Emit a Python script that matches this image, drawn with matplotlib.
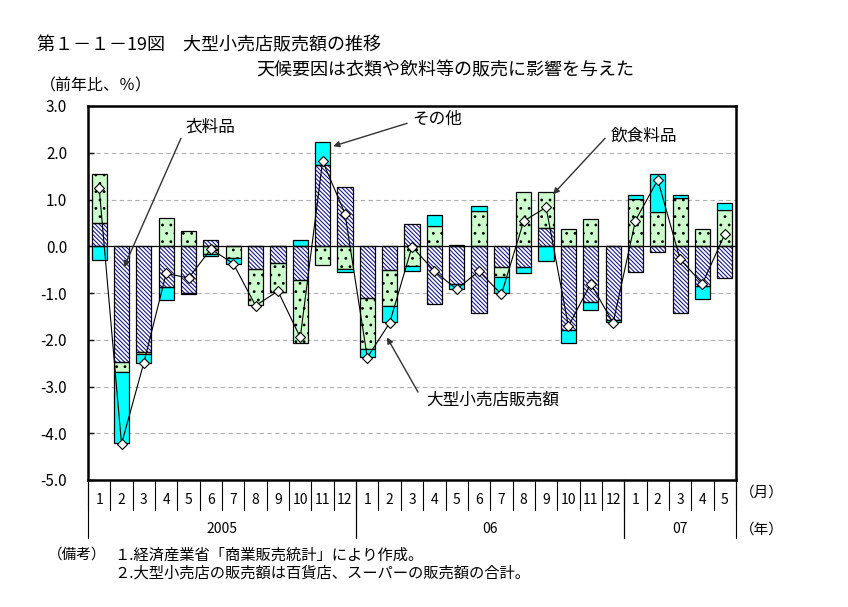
import matplotlib
matplotlib.use("Agg")
import matplotlib.pyplot as plt
import numpy as np

plt.rcParams['font.family'] = ['Noto Sans CJK JP', 'DejaVu Sans']
plt.rcParams['hatch.linewidth'] = 0.8

months = [str(m) for m in range(1, 13)] + [str(m) for m in range(1, 13)] + [str(m) for m in range(1, 6)]
years = ["2005", "06", "07"]
year_spans = [(0, 11), (12, 23), (24, 28)]

clothing = [0.50, -2.47, -2.27, -0.88, -1.00, 0.14, 0.00, -0.48, -0.35, -0.73, 1.73, 1.27,
            -1.10, -0.51, 0.48, -1.24, -0.81, -1.42, -0.44, -0.44, 0.39, -1.80, -1.20, -1.57,
            -0.56, -0.13, -1.42, -0.85, -0.67]
food = [1.05, -0.23, -0.04, 0.61, 0.33, -0.17, -0.26, -0.78, -0.62, -1.35, -0.41, -0.49,
        -1.09, -0.76, -0.42, 0.43, 0.02, 0.75, -0.21, 1.15, 0.77, 0.36, 0.59, 0.00,
        1.02, 0.73, 1.03, 0.36, 0.78]
other = [-0.30, -1.51, -0.18, -0.28, -0.03, -0.03, -0.11, 0.00, 0.00, 0.14, 0.50, -0.07,
         -0.17, -0.34, -0.11, 0.24, -0.11, 0.12, -0.34, -0.14, -0.32, -0.28, -0.16, -0.04,
         0.08, 0.82, 0.07, -0.28, 0.15]
total = [1.25, -4.23, -2.49, -0.58, -0.68, -0.06, -0.37, -1.27, -0.96, -1.95, 1.82, 0.70,
         -2.38, -1.64, -0.01, -0.53, -0.92, -0.53, -1.03, 0.54, 0.83, -1.71, -0.80, -1.64,
         0.55, 1.42, -0.28, -0.80, 0.26]

fig = plt.figure(figsize=(8.48, 6.07), dpi=100)
ax = fig.add_axes([88/848, 1-480/607, (736-88)/848, (480-106)/607])

x = np.arange(len(months))
w = 0.68
pos = np.zeros(len(x))
neg = np.zeros(len(x))

def stack(vals):
    v = np.array(vals, dtype=float)
    bottoms = np.where(v >= 0, pos, neg)
    pos[:] = pos + np.where(v >= 0, v, 0)
    neg[:] = neg + np.where(v < 0, v, 0)
    return v, bottoms

# 衣料品
v, b = stack(clothing)
ax.bar(x, v, w, bottom=b, facecolor='white', edgecolor='#1c1c8c', linewidth=0,
       hatch='\\' * 8, zorder=2)
ax.bar(x, v, w, bottom=b, facecolor='none', edgecolor='black', linewidth=0.9, zorder=2.1)
# 飲食料品
v, b = stack(food)
ax.bar(x, v, w, bottom=b, facecolor='#ccffcc', edgecolor='black', linewidth=0.9,
       hatch='..', zorder=2)
# その他
v, b = stack(other)
ax.bar(x, v, w, bottom=b, facecolor='#00ffff', edgecolor='black', linewidth=0.9, zorder=2)

ax.axhline(0, color='black', linewidth=0.9, zorder=2.5)
ax.plot(x, total, color='black', linewidth=0.8, marker='D', markersize=5,
        markerfacecolor='white', markeredgecolor='black', markeredgewidth=0.8, zorder=3)

ax.set_xlim(-0.5, len(x) - 0.5)
ax.set_ylim(-5, 3)
ax.set_yticks(np.arange(-5, 3.01, 1))
ax.set_yticklabels([f"{t:.1f}" for t in np.arange(-5, 3.01, 1)], fontsize=11)
ax.set_xticks([])
ax.tick_params(axis='y', direction='in', length=4, width=1, pad=15)
for yv in range(-4, 3):
    if yv != 0:
        ax.axhline(yv, color='#b0b0b0', linestyle=(0, (4, 3)), linewidth=0.8, zorder=1)
for s in ax.spines.values():
    s.set_linewidth(1.8)

# category axis below
tr = ax.get_xaxis_transform()
for i in range(len(x) + 1):
    ax.plot([i - 0.5, i - 0.5], [0, -0.08], transform=tr, color='black', linewidth=0.8, clip_on=False)
for i, m in enumerate(months):
    ax.text(i, -0.053, m, transform=tr, ha='center', va='center', fontsize=10)
for (a, bnd), yr in zip(year_spans, years):
    ax.plot([a - 0.5, a - 0.5], [0, -0.155], transform=tr, color='black', linewidth=0.8, clip_on=False)
    ax.plot([bnd + 0.5, bnd + 0.5], [0, -0.155], transform=tr, color='black', linewidth=0.8, clip_on=False)
    ax.text((a + bnd) / 2, -0.131, yr, transform=tr, ha='center', va='center', fontsize=10)
fig.text(762/848, 1-493/607, "（月）", ha='center', va='center', fontsize=10.5)
fig.text(762/848, 1-530/607, "（年）", ha='center', va='center', fontsize=10.5)

# annotations
ap = dict(arrowstyle='-|>', color='#333333', lw=1.0, mutation_scale=9, shrinkA=0, shrinkB=0)
ax.annotate('', xy=(1.11, -0.45), xytext=(3.66, 2.31), arrowprops=ap, zorder=4)
ax.text(5.0, 2.55, "衣料品", ha='center', va='center', fontsize=12)
ax.annotate('', xy=(10.47, 2.14), xytext=(13.78, 2.63), arrowprops=ap, zorder=4)
ax.text(15.12, 2.72, "その他", ha='center', va='center', fontsize=12)
ax.annotate('', xy=(20.31, 1.11), xytext=(22.64, 2.31), arrowprops=ap, zorder=4)
ax.text(24.39, 2.35, "飲食料品", ha='center', va='center', fontsize=12)
ax.annotate('', xy=(12.88, -1.95), xytext=(14.27, -3.12), arrowprops=ap, zorder=4)
ax.text(17.63, -3.29, "大型小売店販売額", ha='center', va='center', fontsize=12)

# titles
fig.text(37/848, 1-45/607, "第１－１－19図　大型小売店販売額の推移", ha='left', va='center', fontsize=13)
fig.text(445/848, 1-70/607, "天候要因は衣類や飲料等の販売に影響を与えた", ha='center', va='center', fontsize=13)
fig.text(40/848, 1-86/607, "（前年比、％）", ha='left', va='center', fontsize=11.5)
fig.text(48/848, 1-555/607, "（備考）", ha='left', va='center', fontsize=10.5)
fig.text(114/848, 1-555/607, "１.経済産業省「商業販売統計」により作成。", ha='left', va='center', fontsize=11)
fig.text(114/848, 1-573/607, "２.大型小売店の販売額は百貨店、スーパーの販売額の合計。", ha='left', va='center', fontsize=11)

fig.savefig("out.png", dpi=100, facecolor='white')
